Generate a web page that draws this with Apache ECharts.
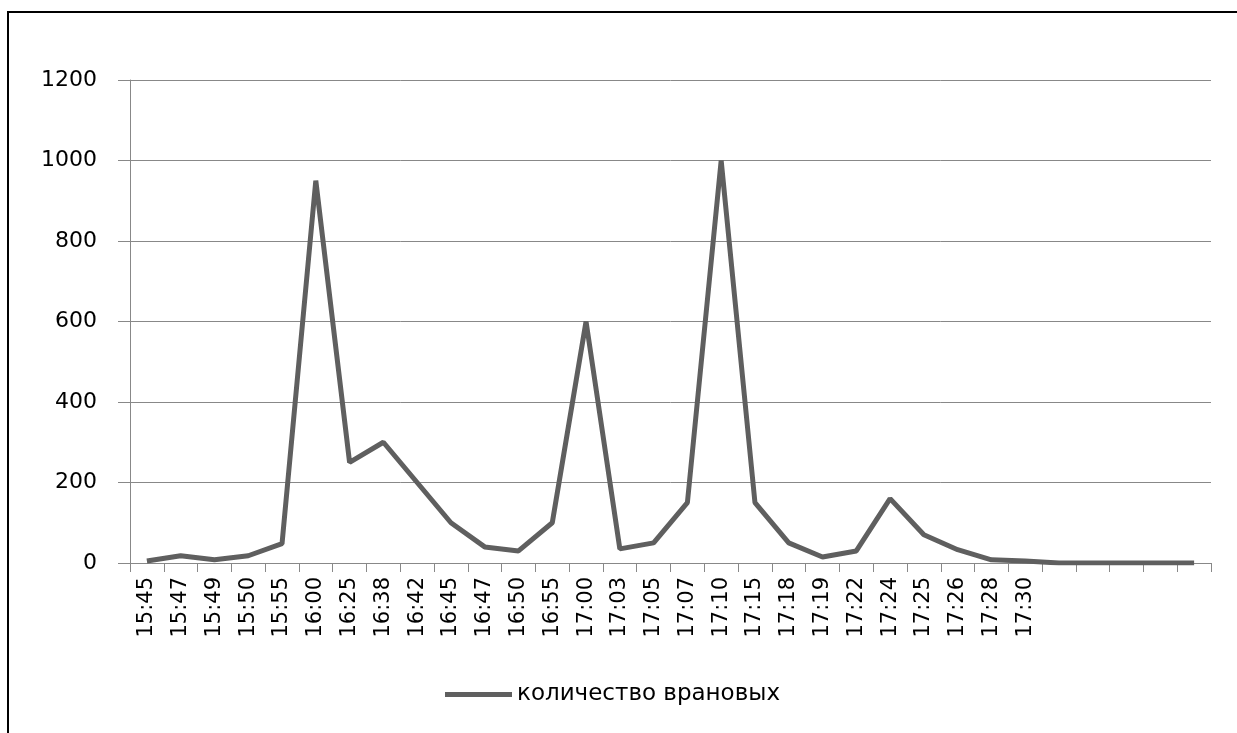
<!DOCTYPE html>
<html>
<head>
<meta charset="utf-8">
<script src="https://cdn.jsdelivr.net/npm/echarts@6/dist/echarts.min.js"></script>
<style>
html,body{margin:0;padding:0;background:#fff;}
#chart{width:1237px;height:733px;}
</style>
</head>
<body>
<div id="chart"></div>
<script>
const categories = ['15:45','15:47','15:49','15:50','15:55','16:00','16:25','16:38','16:42','16:45','16:47','16:50','16:55','17:00','17:03','17:05','17:07','17:10','17:15','17:18','17:19','17:22','17:24','17:25','17:26','17:28','17:30','','','','',''];
const seriesName = 'количество врановых';
const values = [5,18,8,18,48,950,250,300,200,100,40,30,100,600,35,50,150,1000,150,50,15,30,160,70,33,8,5,0,0,0,0,0];
const yMin = 0, yMax = 1200, yInterval = 200;

const chart = echarts.init(document.getElementById('chart'), null, {renderer:'canvas'});
const font = 'DejaVu Sans';
chart.setOption({
  backgroundColor:'#ffffff',
  animation:false,
  graphic:[{
    type:'rect', z:-10, silent:true,
    shape:{x:8, y:12, width:1300, height:1000},
    style:{fill:'none', stroke:'#000', lineWidth:2}
  }],
  grid:{left:130, right:26, top:80, bottom:170},
  legend:{
    data:[{name:seriesName, icon:'rect'}],
    left:440, top:678,
    itemWidth:67, itemHeight:5, itemGap:6,
    itemStyle:{color:'#5f5f5f', borderWidth:0},
    textStyle:{fontFamily:font, fontSize:23, color:'#000', padding:[0,0,0,0]}
  },
  xAxis:{
    type:'category',
    data:categories,
    boundaryGap:true,
    axisLine:{lineStyle:{color:'#888', width:1}},
    axisTick:{show:true, length:9, interval:0, lineStyle:{color:'#888'}},
    axisLabel:{rotate:90, interval:0, margin:14, fontFamily:font, fontSize:21, color:'#000'},
    splitLine:{show:false}
  },
  yAxis:{
    type:'value',
    min:yMin, max:yMax, interval:yInterval,
    axisLine:{show:true, lineStyle:{color:'#888', width:1}},
    axisTick:{show:true, length:12, lineStyle:{color:'#888'}},
    axisLabel:{margin:33, fontFamily:font, fontSize:22, color:'#000', formatter:function(v){return String(v);}},
    splitLine:{show:true, lineStyle:{color:'#888', width:1}}
  },
  series:[{
    name:seriesName,
    type:'line',
    data:values,
    showSymbol:false,
    symbol:'none',
    lineStyle:{color:'#5f5f5f', width:5, join:'bevel'},
    itemStyle:{color:'#5f5f5f'}
  }]
});
</script>
</body>
</html>
